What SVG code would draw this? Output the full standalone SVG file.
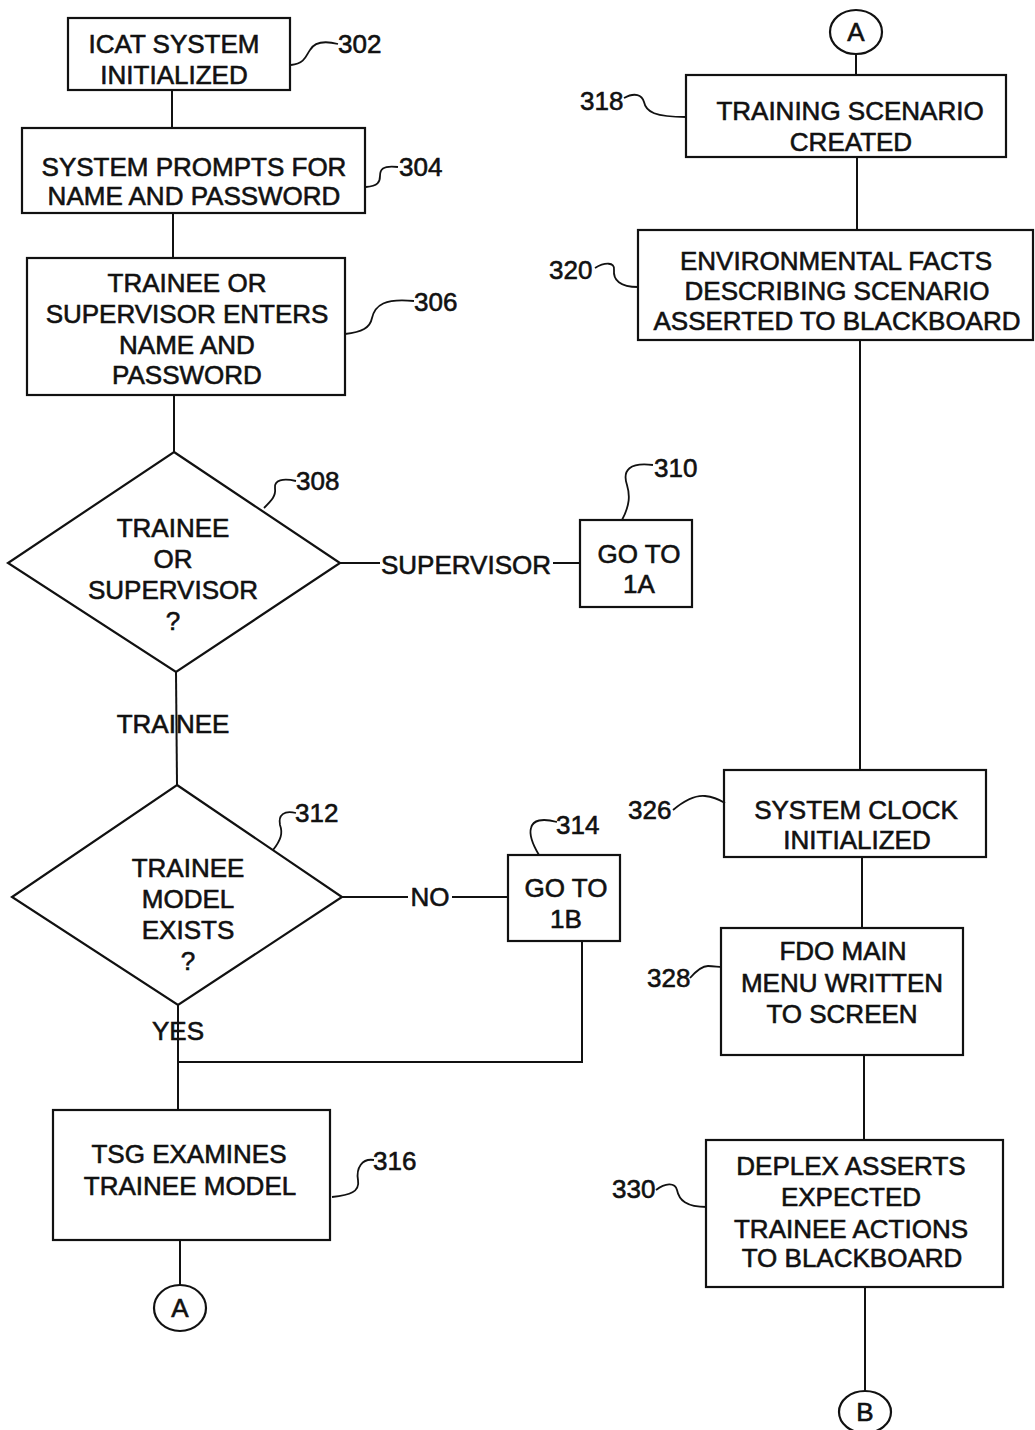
<svg xmlns="http://www.w3.org/2000/svg" width="1035" height="1430" viewBox="0 0 1035 1430">
<style>
.b{fill:none;stroke:#111;stroke-width:2.2}
.c{fill:none;stroke:#111;stroke-width:2}
.l{fill:none;stroke:#111;stroke-width:1.8}
text{font-family:"Liberation Sans",Arial,sans-serif;font-size:26px;fill:#111;stroke:#111;stroke-width:0.6}
.m{text-anchor:middle}
</style>
<rect width="1035" height="1430" fill="#fff"/>
<g id="connectors">
<line class="c" x1="172" y1="90" x2="172" y2="128"/>
<line class="c" x1="173" y1="213" x2="173" y2="258"/>
<line class="c" x1="174" y1="395" x2="174" y2="452"/>
<line class="c" x1="340" y1="563" x2="380" y2="563"/>
<line class="c" x1="553" y1="563" x2="580" y2="563"/>
<text class="m" x="466" y="574">SUPERVISOR</text>
<line class="c" x1="176" y1="672" x2="177" y2="785"/>
<text class="m" x="173" y="733">TRAINEE</text>
<line class="c" x1="342" y1="897" x2="408" y2="897"/>
<line class="c" x1="452" y1="897" x2="508" y2="897"/>
<text class="m" x="430" y="906">NO</text>
<line class="c" x1="178" y1="1005" x2="178" y2="1110"/>
<text class="m" x="178" y="1040">YES</text>
<polyline class="c" points="178,1062 582,1062 582,941"/>
<line class="c" x1="180" y1="1240" x2="180" y2="1285"/>
<line class="c" x1="856" y1="54" x2="856" y2="75"/>
<line class="c" x1="857" y1="157" x2="857" y2="230"/>
<line class="c" x1="860" y1="340" x2="860" y2="770"/>
<line class="c" x1="862" y1="857" x2="862" y2="928"/>
<line class="c" x1="864" y1="1055" x2="864" y2="1140"/>
<line class="c" x1="865" y1="1287" x2="865" y2="1391"/>
</g>
<g id="n302">
<rect class="b" x="68" y="18" width="222" height="72"/>
<text class="m" x="174" y="53">ICAT SYSTEM</text>
<text class="m" x="174" y="84">INITIALIZED</text>
<path class="l" d="M291,65 C306,63 306,55 310,50 C314,43 322,40 338,44"/>
<text x="338" y="53">302</text>
</g>
<g id="n304">
<rect class="b" x="22" y="128" width="343" height="85"/>
<text class="m" x="194" y="176">SYSTEM PROMPTS FOR</text>
<text class="m" x="194" y="205">NAME AND PASSWORD</text>
<path class="l" d="M366,187 C378,186 380,182 380,176 C380,170 382,165 398,167"/>
<text x="399" y="176">304</text>
</g>
<g id="n306">
<rect class="b" x="27" y="258" width="318" height="137"/>
<text class="m" x="187" y="292">TRAINEE OR</text>
<text class="m" x="187" y="323">SUPERVISOR ENTERS</text>
<text class="m" x="187" y="354">NAME AND</text>
<text class="m" x="187" y="384">PASSWORD</text>
<path class="l" d="M345,334 C362,332 370,328 372,318 C375,305 385,298 414,301"/>
<text x="414" y="311">306</text>
</g>
<g id="n308">
<polygon class="b" points="174,452 340,563 176,672 8,563"/>
<text class="m" x="173" y="537">TRAINEE</text>
<text class="m" x="173" y="568">OR</text>
<text class="m" x="173" y="599">SUPERVISOR</text>
<text class="m" x="173" y="630">?</text>
<path class="l" d="M264,508 C272,500 276,496 275,488 C274,480 283,478 296,481"/>
<text x="296" y="490">308</text>
</g>
<g id="n310">
<rect class="b" x="580" y="520" width="112" height="87"/>
<text class="m" x="639" y="563">GO TO</text>
<text class="m" x="639" y="593">1A</text>
<path class="l" d="M622,520 C630,505 630,495 627,485 C622,470 630,462 653,465"/>
<text x="654" y="477">310</text>
</g>
<g id="n312">
<polygon class="b" points="177,785 342,897 178,1005 12,897"/>
<text class="m" x="188" y="877">TRAINEE</text>
<text class="m" x="188" y="908">MODEL</text>
<text class="m" x="188" y="939">EXISTS</text>
<text class="m" x="188" y="970">?</text>
<path class="l" d="M273,850 C281,840 283,833 280,825 C278,815 284,810 296,813"/>
<text x="295" y="822">312</text>
</g>
<g id="n314">
<rect class="b" x="508" y="855" width="112" height="86"/>
<text class="m" x="566" y="897">GO TO</text>
<text class="m" x="566" y="928">1B</text>
<path class="l" d="M539,855 C533,845 529,835 531,828 C533,820 542,818 557,822"/>
<text x="556" y="834">314</text>
</g>
<g id="n316">
<rect class="b" x="53" y="1110" width="277" height="130"/>
<text class="m" x="189" y="1163">TSG EXAMINES</text>
<text class="m" x="190" y="1195">TRAINEE MODEL</text>
<path class="l" d="M332,1197 C350,1195 360,1192 358,1180 C356,1168 362,1158 374,1160"/>
<text x="373" y="1170">316</text>
</g>
<g id="nA1">
<ellipse class="b" cx="180" cy="1308" rx="26" ry="23"/>
<text class="m" x="180" y="1317">A</text>
</g>
<g id="nA2">
<ellipse class="b" cx="856" cy="32" rx="26" ry="22"/>
<text class="m" x="856" y="41">A</text>
</g>
<g id="n318">
<rect class="b" x="686" y="75" width="320" height="82"/>
<text class="m" x="850" y="120">TRAINING SCENARIO</text>
<text class="m" x="851" y="151">CREATED</text>
<path class="l" d="M624,98 C635,92 642,95 644,102 C646,112 655,117 686,117"/>
<text x="580" y="110">318</text>
</g>
<g id="n320">
<rect class="b" x="638" y="230" width="395" height="110"/>
<text class="m" x="836" y="270">ENVIRONMENTAL FACTS</text>
<text class="m" x="837" y="300">DESCRIBING SCENARIO</text>
<text class="m" x="837" y="330">ASSERTED TO BLACKBOARD</text>
<path class="l" d="M595,268 C605,262 615,262 614,270 C613,280 620,287 638,287"/>
<text x="549" y="279">320</text>
</g>
<g id="n326">
<rect class="b" x="724" y="770" width="262" height="87"/>
<text class="m" x="856" y="819">SYSTEM CLOCK</text>
<text class="m" x="857" y="849">INITIALIZED</text>
<path class="l" d="M673,810 C685,800 695,795 705,796 C715,797 720,800 725,803"/>
<text x="628" y="819">326</text>
</g>
<g id="n328">
<rect class="b" x="721" y="928" width="242" height="127"/>
<text class="m" x="843" y="960">FDO MAIN</text>
<text class="m" x="842" y="992">MENU WRITTEN</text>
<text class="m" x="842" y="1023">TO SCREEN</text>
<path class="l" d="M690,978 C697,970 702,966 708,966 C714,966 718,967 722,967"/>
<text x="647" y="987">328</text>
</g>
<g id="n330">
<rect class="b" x="706" y="1140" width="297" height="147"/>
<text class="m" x="851" y="1175">DEPLEX ASSERTS</text>
<text class="m" x="851" y="1206">EXPECTED</text>
<text class="m" x="851" y="1238">TRAINEE ACTIONS</text>
<text class="m" x="852" y="1267">TO BLACKBOARD</text>
<path class="l" d="M656,1190 C665,1183 675,1182 677,1190 C679,1200 686,1207 707,1207"/>
<text x="612" y="1198">330</text>
</g>
<g id="nB">
<ellipse class="b" cx="865" cy="1412" rx="26" ry="21"/>
<text class="m" x="865" y="1421">B</text>
</g>
</svg>
